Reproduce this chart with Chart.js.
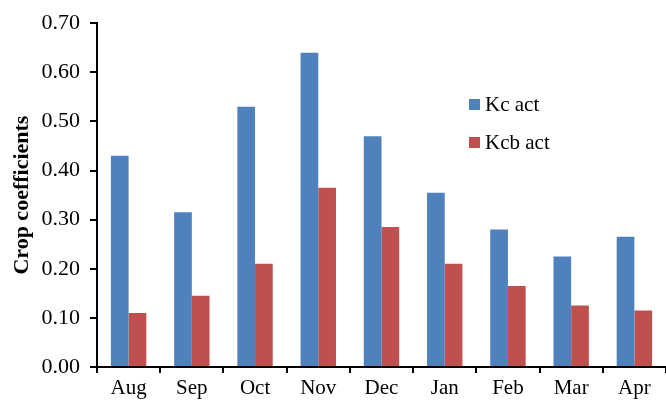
<!DOCTYPE html>
<html>
<head>
<meta charset="utf-8">
<script src="https://cdn.jsdelivr.net/npm/chart.js@4"></script>
<style>
  body { margin: 0; background: #fff; }
  canvas { display: block; }
</style>
</head>
<body>
<canvas id="myChart" width="666" height="403"></canvas>
<script>
const months = ['Aug', 'Sep', 'Oct', 'Nov', 'Dec', 'Jan', 'Feb', 'Mar', 'Apr'];
const kcAct = [0.43, 0.315, 0.53, 0.64, 0.47, 0.355, 0.28, 0.225, 0.265];
const kcbAct = [0.11, 0.145, 0.21, 0.365, 0.285, 0.21, 0.165, 0.125, 0.115];
const yTicks = [0, 0.1, 0.2, 0.3, 0.4, 0.5, 0.6, 0.7];

const serif = '"Liberation Serif", "Times New Roman", serif';

// legend drawn inside the plot, stacked vertically like the original
const sideLegend = {
  id: 'sideLegend',
  afterDraw(chart) {
    const c = chart.ctx;
    c.save();
    c.font = '21px ' + serif;
    c.textBaseline = 'middle';
    c.textAlign = 'left';
    chart.data.datasets.forEach((ds, i) => {
      const y = 104 + i * 38;
      c.fillStyle = ds.backgroundColor;
      c.fillRect(469, y - 5, 11, 11);
      c.fillStyle = '#000';
      c.fillText(ds.label, 485, y + 1);
    });
    c.restore();
  }
};

const ctx = document.getElementById('myChart');
new Chart(ctx, {
  type: 'bar',
  data: {
    labels: months,
    datasets: [
      { label: 'Kc act', data: kcAct, backgroundColor: '#4F81BD' },
      { label: 'Kcb act', data: kcbAct, backgroundColor: '#C0504D' }
    ]
  },
  options: {
    responsive: false,
    animation: false,
    layout: { padding: { top: 22, right: 0, bottom: 0, left: 0 } },
    datasets: { bar: { categoryPercentage: 0.56, barPercentage: 1.0 } },
    plugins: {
      legend: { display: false },
      tooltip: { enabled: false }
    },
    scales: {
      x: {
        grid: { drawOnChartArea: false, color: '#000', lineWidth: 2, tickLength: 6 },
        border: { color: '#000', width: 2 },
        ticks: { color: '#000', font: { family: serif, size: 21 }, padding: 3, maxRotation: 0 },
        afterFit(scale) { scale.height = 36; }
      },
      y: {
        min: 0,
        max: 0.7,
        afterBuildTicks(scale) { scale.ticks = yTicks.map(v => ({ value: v })); },
        grid: { drawOnChartArea: false, color: '#000', lineWidth: 2, tickLength: 7 },
        border: { color: '#000', width: 2 },
        ticks: {
          color: '#000',
          font: { family: serif, size: 22 },
          padding: 10,
          callback: v => v.toFixed(2)
        },
        title: {
          display: true,
          text: 'Crop coefficients',
          color: '#000',
          font: { family: serif, size: 22, weight: 'bold' },
          padding: { top: 9, bottom: 0 }
        },
        afterFit(scale) { scale.width = 97; }
      }
    }
  },
  plugins: [sideLegend]
});
</script>
</body>
</html>
